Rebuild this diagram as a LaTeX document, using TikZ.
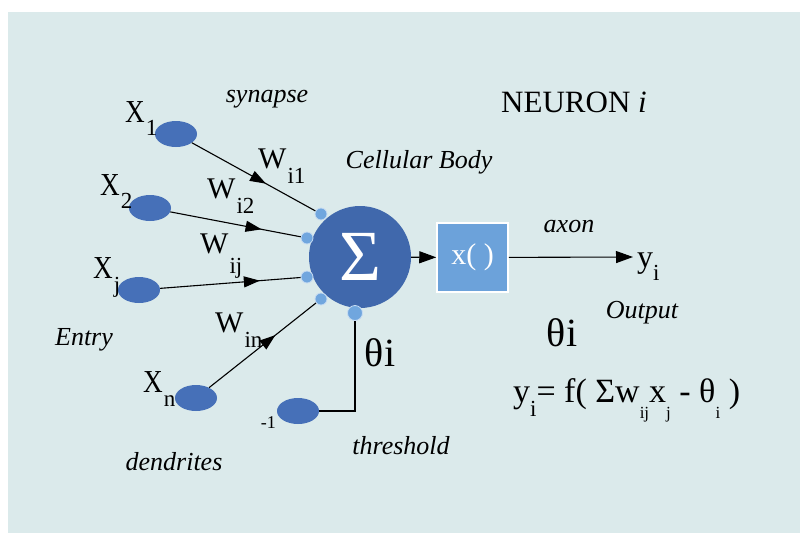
\documentclass[tikz,border=0pt]{standalone}
\usepackage{fontspec}
\setmainfont{Liberation Serif}
\usetikzlibrary{arrows.meta,decorations.markings,shapes.geometric,calc}
\definecolor{bg}{RGB}{219,234,235}
\definecolor{ellc}{RGB}{70,112,184}
\definecolor{somac}{RGB}{64,104,172}
\definecolor{dotc}{RGB}{112,166,222}
\definecolor{boxc}{RGB}{108,162,218}
\newcommand{\fs}[1]{\fontsize{#1}{#1}\selectfont}
\newcommand{\lsub}[3]{#1\kern1pt\raisebox{-#3pt}{\fs{23}#2}}
\newcommand{\xl}{\scalebox{0.85}[1]{\fs{32}X}}
\newcommand{\esub}[1]{\raisebox{-16pt}{\fs{17}#1}}
\begin{document}
\begin{tikzpicture}[x=1pt,y=-1pt,
  inp/.style={ellipse, fill=ellc, minimum width=42pt, minimum height=26pt, inner sep=0},
  dotn/.style={circle, fill=dotc, draw=white!60!dotc, line width=0.8pt, minimum size=12pt, inner sep=0},
  conn/.style={line width=1.1pt, black},
  arr/.style={conn, -{Triangle[length=17pt,width=12pt]}},
  midarr/.style={postaction={decorate}, decoration={markings, mark=at position #1 with {\arrow{Triangle[length=16pt,width=11pt]}}}},
  it/.style={font=\fs{26}\itshape, inner sep=0},
  lab/.style={anchor=base west, inner sep=0, font=\fs{30}},
  big/.style={font=\fs{40}, inner sep=0}]
\useasboundingbox (0,0) rectangle (800,533);
\fill[bg] (8,12) rectangle (800,533);
% inputs
\node[inp] (x1) at (176,134) {};
\node[inp] (x2) at (150,208) {};
\node[inp] (xj) at (139,290) {};
\node[inp] (xn) at (196,398) {};
\node[inp] (m1) at (298,411) {};
% soma
\node[circle, fill=somac, minimum size=102pt, inner sep=0] (soma) at (360,257) {\fs{72}\color{white}Σ};
\node[dotn] (d1) at (321,214) {};
\node[dotn] (d2) at (307,238) {};
\node[dotn] (d3) at (307,277) {};
\node[dotn] (d4) at (321,299) {};
\node[dotn, minimum size=15pt] (d5) at (355,313) {};
% activation box
\node[draw=white, line width=1.5pt, fill=boxc, minimum width=71pt, minimum height=69pt, inner sep=0] (fx) at (472.5,257.5) {\fs{30}\color{white}x( )};
% output
\node[anchor=base west, inner sep=0] (yi) at (637,267) {\fs{32}y\raisebox{-13pt}{\fs{23}i}};
\coordinate (yend) at (633,257);
% connectors
\draw[conn, midarr=0.6] (x1) -- (d1);
\draw[conn, midarr=0.7] (x2) -- (d2);
\draw[conn, midarr=0.71] (xj) -- (d3);
\draw[conn, midarr=0.62] (xn) -- (d4);
\draw[conn] (m1) -- (m1 -| d5) -- (d5);
\draw[arr] (soma) -- (fx);
\draw[arr] (fx) -- (yend);
% input labels
\node[lab] (lx1) at (125,122) {\lsub{\xl}{1}{13}};
\node[lab] (lx2) at (100,195) {\lsub{\xl}{2}{13}};
\node[lab] (lxj) at (93,278) {\lsub{\xl}{j}{14}};
\node[lab] (lxn) at (143,392) {\lsub{\xl}{n}{14}};
\node[anchor=base east, inner sep=0, font=\fs{18}] (lm1) at (276,428) {-1};
% weights
\node[lab] (w1) at (258,168) {\lsub{W}{i1}{15}};
\node[lab] (w2) at (207,198) {\lsub{W}{i2}{15}};
\node[lab] (wj) at (200,253) {\lsub{W}{ij}{20}};
\node[lab] (wn) at (215,332) {\lsub{W}{in}{15}};
% italic labels
\node[it] (syn) at (267,99) {synapse};
\node[it] (cell) at (419,162) {Cellular Body};
\node[it] (entry) at (84,340) {Entry};
\node[it] (dend) at (174,462) {dendrites};
\node[it] (thr) at (401,446) {threshold};
\node[it] (axon) at (569,227) {axon};
\node[it] (outp) at (642,313) {Output};
% other texts
\node[inner sep=0, font=\fs{31}] (neur) at (574,102) {NEURON \textit{i}};
\node[big] (th1) at (380,353) {θi};
\node[big] (th2) at (562,333) {θi};
\node[anchor=base west, inner sep=0, font=\fs{34}] (form) at (513,402) {y\raisebox{-14pt}{\fs{23}i}= f( Σw\esub{ij}x\esub{j} - θ\esub{i} )};
\end{tikzpicture}
\end{document}
